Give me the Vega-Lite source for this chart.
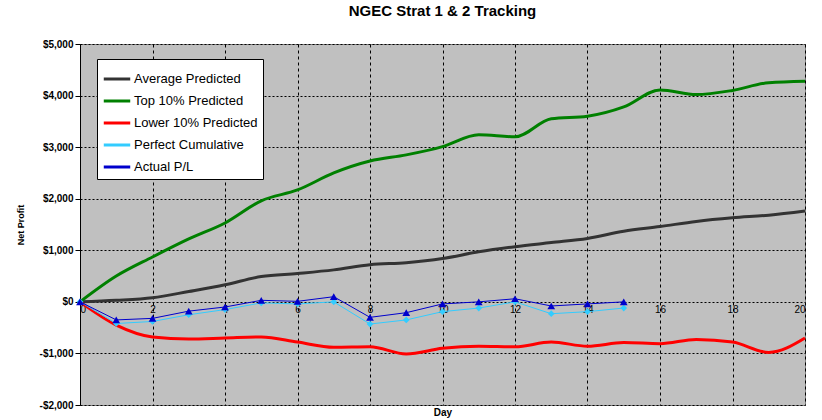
{
  "$schema": "https://vega.github.io/schema/vega-lite/v6.json",
  "width": 725,
  "height": 361,
  "autosize": "none",
  "padding": {"left": 80, "top": 44, "right": 17, "bottom": 15},
  "background": "white",
  "title": {"text": "NGEC Strat 1 & 2 Tracking", "font": "Arial", "fontSize": 15, "fontWeight": "bold", "color": "black", "offset": 20},
  "config": {
    "view": {"fill": "#c0c0c0", "stroke": "#808080"},
    "axis": {"labelFont": "Arial", "labelFontWeight": "bold", "labelFontSize": 10, "labelColor": "black", "titleFont": "Arial", "titleFontSize": 10, "titleFontWeight": "bold", "titleColor": "black", "domainColor": "black", "tickColor": "black"}
  },
  "datasets": {
    "pts": [
      {"day": 0, "s": "Average Predicted", "v": 0}, {"day": 1, "s": "Average Predicted", "v": 30}, {"day": 2, "s": "Average Predicted", "v": 80}, {"day": 3, "s": "Average Predicted", "v": 200}, {"day": 4, "s": "Average Predicted", "v": 330}, {"day": 5, "s": "Average Predicted", "v": 490}, {"day": 6, "s": "Average Predicted", "v": 550}, {"day": 7, "s": "Average Predicted", "v": 620}, {"day": 8, "s": "Average Predicted", "v": 720}, {"day": 9, "s": "Average Predicted", "v": 760}, {"day": 10, "s": "Average Predicted", "v": 840}, {"day": 11, "s": "Average Predicted", "v": 970}, {"day": 12, "s": "Average Predicted", "v": 1070}, {"day": 13, "s": "Average Predicted", "v": 1150}, {"day": 14, "s": "Average Predicted", "v": 1230}, {"day": 15, "s": "Average Predicted", "v": 1370}, {"day": 16, "s": "Average Predicted", "v": 1460}, {"day": 17, "s": "Average Predicted", "v": 1560}, {"day": 18, "s": "Average Predicted", "v": 1630}, {"day": 19, "s": "Average Predicted", "v": 1680}, {"day": 20, "s": "Average Predicted", "v": 1760},
      {"day": 0, "s": "Top 10% Predicted", "v": 0}, {"day": 1, "s": "Top 10% Predicted", "v": 500}, {"day": 2, "s": "Top 10% Predicted", "v": 870}, {"day": 3, "s": "Top 10% Predicted", "v": 1220}, {"day": 4, "s": "Top 10% Predicted", "v": 1530}, {"day": 5, "s": "Top 10% Predicted", "v": 1960}, {"day": 6, "s": "Top 10% Predicted", "v": 2170}, {"day": 7, "s": "Top 10% Predicted", "v": 2500}, {"day": 8, "s": "Top 10% Predicted", "v": 2730}, {"day": 9, "s": "Top 10% Predicted", "v": 2850}, {"day": 10, "s": "Top 10% Predicted", "v": 3010}, {"day": 11, "s": "Top 10% Predicted", "v": 3240}, {"day": 12, "s": "Top 10% Predicted", "v": 3200}, {"day": 13, "s": "Top 10% Predicted", "v": 3550}, {"day": 14, "s": "Top 10% Predicted", "v": 3600}, {"day": 15, "s": "Top 10% Predicted", "v": 3780}, {"day": 16, "s": "Top 10% Predicted", "v": 4110}, {"day": 17, "s": "Top 10% Predicted", "v": 4020}, {"day": 18, "s": "Top 10% Predicted", "v": 4100}, {"day": 19, "s": "Top 10% Predicted", "v": 4250}, {"day": 20, "s": "Top 10% Predicted", "v": 4280},
      {"day": 0, "s": "Lower 10% Predicted", "v": 0}, {"day": 1, "s": "Lower 10% Predicted", "v": -450}, {"day": 2, "s": "Lower 10% Predicted", "v": -680}, {"day": 3, "s": "Lower 10% Predicted", "v": -720}, {"day": 4, "s": "Lower 10% Predicted", "v": -700}, {"day": 5, "s": "Lower 10% Predicted", "v": -680}, {"day": 6, "s": "Lower 10% Predicted", "v": -780}, {"day": 7, "s": "Lower 10% Predicted", "v": -880}, {"day": 8, "s": "Lower 10% Predicted", "v": -870}, {"day": 9, "s": "Lower 10% Predicted", "v": -1010}, {"day": 10, "s": "Lower 10% Predicted", "v": -900}, {"day": 11, "s": "Lower 10% Predicted", "v": -860}, {"day": 12, "s": "Lower 10% Predicted", "v": -870}, {"day": 13, "s": "Lower 10% Predicted", "v": -780}, {"day": 14, "s": "Lower 10% Predicted", "v": -860}, {"day": 15, "s": "Lower 10% Predicted", "v": -790}, {"day": 16, "s": "Lower 10% Predicted", "v": -810}, {"day": 17, "s": "Lower 10% Predicted", "v": -730}, {"day": 18, "s": "Lower 10% Predicted", "v": -780}, {"day": 19, "s": "Lower 10% Predicted", "v": -980}, {"day": 20, "s": "Lower 10% Predicted", "v": -700},
      {"day": 0, "s": "Perfect Cumulative", "v": 0}, {"day": 1, "s": "Perfect Cumulative", "v": -420}, {"day": 2, "s": "Perfect Cumulative", "v": -380}, {"day": 3, "s": "Perfect Cumulative", "v": -250}, {"day": 4, "s": "Perfect Cumulative", "v": -150}, {"day": 5, "s": "Perfect Cumulative", "v": -20}, {"day": 6, "s": "Perfect Cumulative", "v": -40}, {"day": 7, "s": "Perfect Cumulative", "v": 0}, {"day": 8, "s": "Perfect Cumulative", "v": -430}, {"day": 9, "s": "Perfect Cumulative", "v": -350}, {"day": 10, "s": "Perfect Cumulative", "v": -190}, {"day": 11, "s": "Perfect Cumulative", "v": -120}, {"day": 12, "s": "Perfect Cumulative", "v": 0}, {"day": 13, "s": "Perfect Cumulative", "v": -230}, {"day": 14, "s": "Perfect Cumulative", "v": -190}, {"day": 15, "s": "Perfect Cumulative", "v": -120},
      {"day": 0, "s": "Actual P/L", "v": 0}, {"day": 1, "s": "Actual P/L", "v": -350}, {"day": 2, "s": "Actual P/L", "v": -320}, {"day": 3, "s": "Actual P/L", "v": -180}, {"day": 4, "s": "Actual P/L", "v": -100}, {"day": 5, "s": "Actual P/L", "v": 30}, {"day": 6, "s": "Actual P/L", "v": 10}, {"day": 7, "s": "Actual P/L", "v": 100}, {"day": 8, "s": "Actual P/L", "v": -300}, {"day": 9, "s": "Actual P/L", "v": -210}, {"day": 10, "s": "Actual P/L", "v": -40}, {"day": 11, "s": "Actual P/L", "v": 0}, {"day": 12, "s": "Actual P/L", "v": 60}, {"day": 13, "s": "Actual P/L", "v": -80}, {"day": 14, "s": "Actual P/L", "v": -40}, {"day": 15, "s": "Actual P/L", "v": 0}
    ]
  },
  "data": {"name": "pts"},
  "encoding": {
    "x": {"field": "day", "type": "quantitative", "scale": {"domain": [0, 20], "nice": false}, "title": "Day",
      "axis": {"values": [0, 2, 4, 6, 8, 10, 12, 14, 16, 18, 20], "labelPadding": -101, "ticks": false, "grid": true, "gridDash": [3, 3], "gridColor": "black", "labelFontWeight": "normal", "domain": false, "titlePadding": 2}},
    "y": {"field": "v", "type": "quantitative", "scale": {"domain": [-2000, 5000], "nice": false}, "title": "Net Profit",
      "axis": {"values": [-2000, -1000, 0, 1000, 2000, 3000, 4000, 5000], "labelExpr": "datum.value < 0 ? '-$' + format(-datum.value, ',') : '$' + format(datum.value, ',')", "grid": true, "gridDash": [2, 2], "gridColor": "black", "titleFontSize": 9, "titlePadding": 14}},
    "color": {"field": "s", "type": "nominal",
      "scale": {"domain": ["Average Predicted", "Top 10% Predicted", "Lower 10% Predicted", "Perfect Cumulative", "Actual P/L"],
                "range": ["#333333", "#008000", "#ff0000", "#33ccff", "#0000cc"]},
      "legend": null}
  },
  "layer": [
    {
      "data": {"values": [{"d": 0}]},
      "mark": {"type": "rule", "color": "black", "strokeWidth": 1},
      "encoding": {"y": {"datum": 0}, "x": null, "color": null}
    },
    {
      "mark": {"type": "line", "strokeWidth": 3, "interpolate": "monotone"},
      "transform": [{"filter": "indexof(['Average Predicted','Top 10% Predicted','Lower 10% Predicted'], datum.s) >= 0"}],
      "encoding": {
        "color": {"field": "s", "type": "nominal",
          "legend": {"orient": "none", "legendX": 17, "legendY": 15, "title": null, "fillColor": "white", "strokeColor": "black", "padding": 5, "symbolType": "stroke", "symbolSize": 700, "symbolStrokeWidth": 3, "labelFont": "Arial", "labelFontSize": 13, "labelColor": "black", "labelLimit": 300, "rowPadding": 0, "labelOffset": 2}}
      }
    },
    {
      "mark": {"type": "line", "strokeWidth": 1},
      "transform": [{"filter": "datum.s == 'Perfect Cumulative'"}]
    },
    {
      "mark": {"type": "point", "shape": "diamond", "filled": true, "size": 45, "opacity": 1},
      "transform": [{"filter": "datum.s == 'Perfect Cumulative'"}]
    },
    {
      "mark": {"type": "line", "strokeWidth": 1},
      "transform": [{"filter": "datum.s == 'Actual P/L'"}]
    },
    {
      "mark": {"type": "point", "shape": "triangle-up", "filled": true, "size": 60, "opacity": 1},
      "transform": [{"filter": "datum.s == 'Actual P/L'"}]
    }
  ]
}
